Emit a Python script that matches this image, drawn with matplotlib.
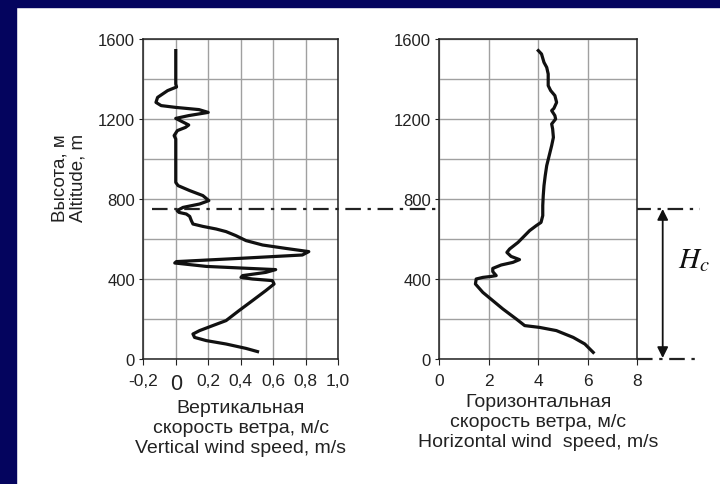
import matplotlib
matplotlib.use("Agg")
import matplotlib.pyplot as plt
from matplotlib.patches import Rectangle
from matplotlib.lines import Line2D

plt.rcParams['font.family'] = ['Liberation Sans', 'DejaVu Sans']
plt.rcParams['mathtext.fontset'] = 'stix'

# vertical wind speed profile, m/s vs altitude, m
vert_speed = [0.0, 0.0, 0.005, -0.05, -0.112, -0.122, -0.09, 0.0, 0.143, 0.2, 0.08, 0.0,
              0.08, 0.06, 0.01, -0.01, 0.0, 0.0, 0.014, 0.086, 0.167, 0.204, 0.147,
              0.045, 0.008, 0.02, 0.065, 0.086, 0.096, 0.106, 0.167, 0.249, 0.31,
              0.37, 0.433, 0.535, 0.678, 0.82, 0.78, 0.39, 0.004, -0.006, 0.188,
              0.453, 0.616, 0.555, 0.412, 0.402, 0.473, 0.596, 0.606, 0.555, 0.473,
              0.39, 0.31, 0.228, 0.147, 0.106, 0.116, 0.188, 0.31, 0.433, 0.504]
vert_alt = [1542, 1375, 1360, 1342, 1308, 1283, 1267, 1258, 1247, 1233, 1217, 1203,
            1170, 1158, 1142, 1117, 1100, 883, 867, 842, 817, 792, 775,
            758, 742, 733, 725, 713, 692, 675, 663, 650, 637,
            617, 592, 570, 553, 537, 520, 503, 487, 480, 463,
            453, 447, 433, 417, 408, 400, 392, 375, 342, 292,
            242, 192, 167, 142, 125, 108, 92, 75, 53, 37]

# horizontal wind speed profile, m/s vs altitude, m
hor_speed = [4.0, 4.13, 4.23, 4.34, 4.40, 4.40, 4.5, 4.67, 4.74, 4.63, 4.54, 4.67,
             4.70, 4.54, 4.58, 4.61, 4.54, 4.44, 4.34, 4.28, 4.23, 4.20, 4.18,
             4.18, 4.11, 3.92, 3.65, 3.38, 3.18, 2.84, 2.73, 2.9, 3.24, 2.97,
             2.5, 2.16, 2.16, 2.3, 2.1, 1.76, 1.49, 1.46, 1.76, 2.16, 2.57,
             3.11, 3.45, 4.05, 4.73, 5.41, 5.88, 6.22]
hor_alt = [1542, 1525, 1483, 1458, 1425, 1367, 1342, 1317, 1283, 1253, 1242, 1217,
           1200, 1175, 1150, 1108, 1067, 1017, 967, 917, 867, 817, 767,
           717, 683, 667, 642, 608, 583, 550, 533, 513, 497, 483,
           470, 453, 437, 417, 413, 408, 400, 375, 333, 292, 250,
           200, 167, 158, 142, 108, 75, 33]

vert_ticks = [-0.2, 0, 0.2, 0.4, 0.6, 0.8, 1.0]
vert_ticklabels = ['-0,2', '0', '0,2', '0,4', '0,6', '0,8', '1,0']
hor_ticks = [0, 2, 4, 6, 8]
alt_ticks = [0, 400, 800, 1200, 1600]
alt_grid = [200, 600, 1000, 1400]
h_c = 750

fig = plt.figure(figsize=(7.2, 4.85), dpi=100)
fig.patch.set_facecolor('white')

# slide frame
fig.patches.append(Rectangle((0, 0), 16 / 720, 1, transform=fig.transFigure,
                             color='#04045e', zorder=0))
fig.patches.append(Rectangle((0, 1 - 8 / 485), 1, 8 / 485, transform=fig.transFigure,
                             color='#04045e', zorder=0))

ax1 = fig.add_axes([143.3 / 720, 125 / 485, 194.7 / 720, 320 / 485])
ax2 = fig.add_axes([439.3 / 720, 125 / 485, 198 / 720, 320 / 485])

for ax in (ax1, ax2):
    ax.set_ylim(0, 1600)
    ax.set_yticks(alt_ticks)
    ax.set_yticks(alt_grid, minor=True)
    ax.grid(True, which='both', color='#a0a0a0', lw=1)
    ax.tick_params(axis='y', which='minor', length=0)
    ax.tick_params(axis='y', which='major', length=3, pad=3, labelsize=12, colors='#222222')
    ax.tick_params(axis='x', length=4, pad=6, labelsize=12.5, colors='#222222')
    for s in ax.spines.values():
        s.set_color('#222222')
        s.set_linewidth(1.1)
    ax.set_axisbelow(True)

ax1.set_xlim(-0.2, 1.0)
ax1.set_xticks(vert_ticks)
ax1.set_xticklabels(vert_ticklabels)
ax1.get_xticklabels()[1].set_fontsize(15.5)
ax1.plot(vert_speed, vert_alt, color='#111111', lw=2.3, solid_joinstyle='round')
ax1.set_xlabel('Вертикальная\nскорость ветра, м/с\nVertical wind speed, m/s',
               fontsize=14, labelpad=4, color='#222222', linespacing=1.22)

ax2.set_xlim(0, 8)
ax2.set_xticks(hor_ticks)
ax2.plot(hor_speed, hor_alt, color='#111111', lw=2.3, solid_joinstyle='round')
ax2.set_xlabel('Горизонтальная\nскорость ветра, м/с\nHorizontal wind  speed, m/s',
               fontsize=14, labelpad=4, color='#222222', linespacing=1.22)

fig.text(69 / 720, (485 - 178) / 485, 'Высота, м\nAltitude, m', rotation=90,
         ha='center', va='center', fontsize=13.5, color='#222222', linespacing=1.15)

# mixing height marker
tr = ax1.get_yaxis_transform()
x0 = (152 - 143.3) / 194.7
x1 = (700 - 143.3) / 194.7
ax1.add_line(Line2D([x0, x1], [h_c, h_c], transform=tr, color='#222222', lw=1.6,
                    dashes=(7, 3, 1.5, 3), clip_on=False))
tr2 = ax2.get_yaxis_transform()
ax2.add_line(Line2D([1.0, (700 - 439.3) / 198], [0, 0], transform=tr2, color='#222222',
                    lw=1.6, dashes=(7, 3, 1.5, 3), clip_on=False))
xa = (662.7 - 439.3) / 198
ax2.annotate('', xy=(xa, 5), xytext=(xa, h_c), xycoords=tr2, textcoords=tr2,
             arrowprops=dict(arrowstyle='<|-|>', color='#111111', lw=1.3,
                             mutation_scale=16, shrinkA=0, shrinkB=0),
             annotation_clip=False)
ax2.text((694 - 439.3) / 198, 500, r'$H_c$', transform=tr2, fontsize=21,
         ha='center', va='center', color='#111111')

fig.savefig('out.png', dpi=100)
